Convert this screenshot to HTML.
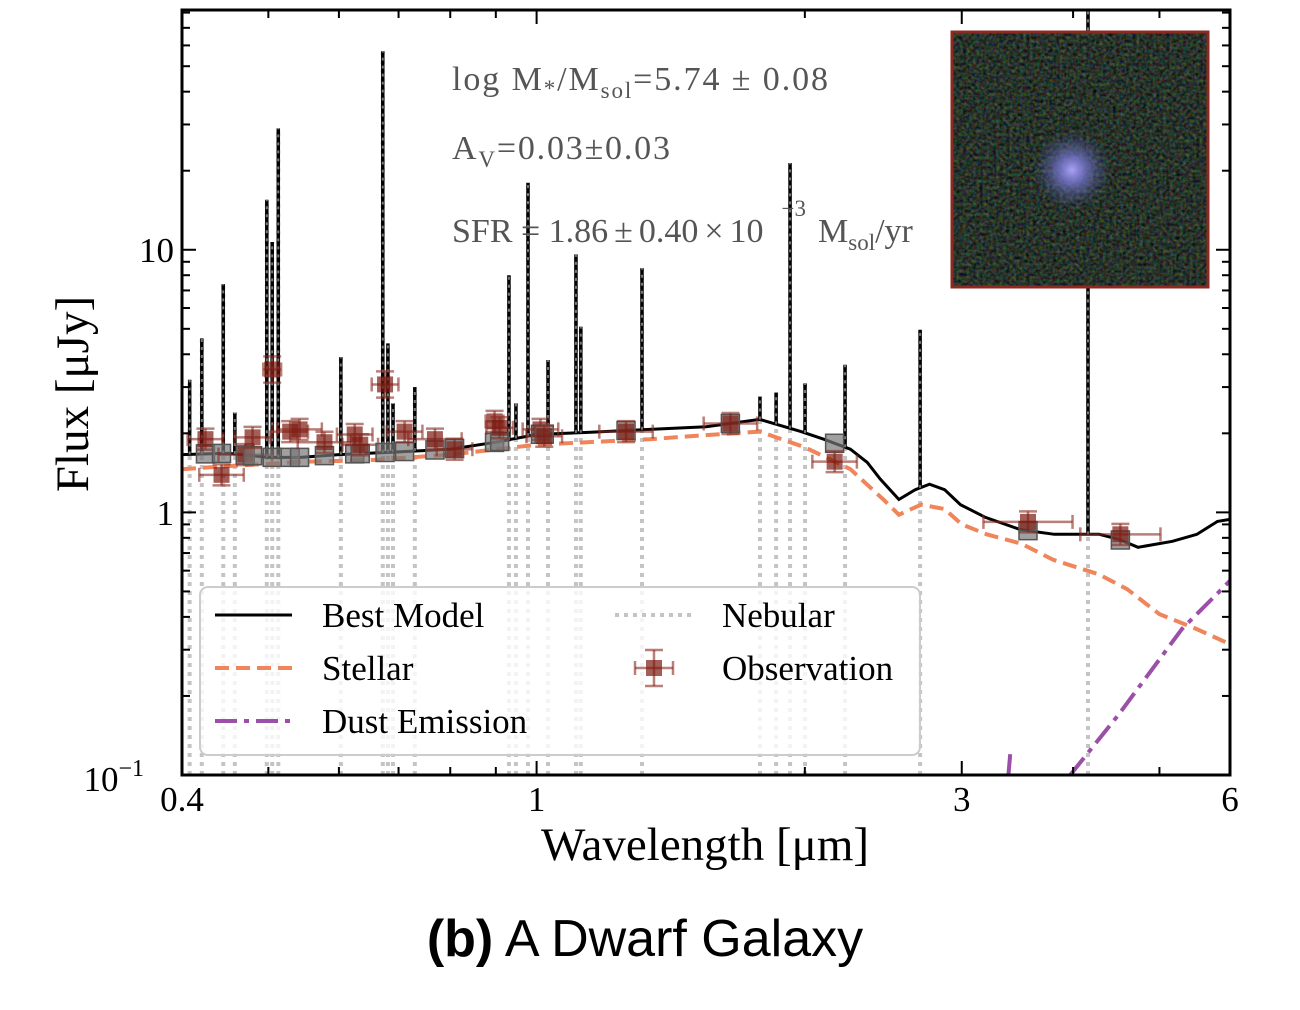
<!DOCTYPE html>
<html><head><meta charset="utf-8"><style>
body{margin:0;background:#fff;width:1300px;height:1010px;overflow:hidden}
</style></head><body>
<svg id="c" width="1300" height="1010" style="position:absolute;left:0;top:0">
<defs>
<clipPath id="pc"><rect x="182" y="10" width="1048" height="765"/></clipPath>
<filter id="noise" x="0" y="0" width="100%" height="100%" color-interpolation-filters="sRGB">
<feTurbulence type="fractalNoise" baseFrequency="0.3" numOctaves="2" seed="3"/>
<feColorMatrix type="matrix" values="0.45 0.1 0 0 -0.12  0.05 0.5 0.05 0 -0.1  0 0.1 0.45 0 -0.11  0 0 0 0 1"/>
</filter>
<radialGradient id="blob"><stop offset="0" stop-color="#a9a2f5"/><stop offset="0.3" stop-color="#7a78d0" stop-opacity="0.85"/><stop offset="1" stop-color="#3a4a80" stop-opacity="0"/></radialGradient>
</defs>
<g id="plot" clip-path="url(#pc)"></g>
<g id="axes" style="font-family:'Liberation Serif',serif"></g>
</svg>
<script>
const lineW=[0.408,0.421,0.445,0.4585,0.498,0.505,0.513,0.603,0.672,0.681,0.69,0.73,0.931,0.948,0.978,1.03,1.107,1.121,1.313,1.781,1.857,1.925,2.001,2.219,2.694,4.157];
const lineF=[3.2,4.6,7.4,2.4,15.5,10.7,29,3.9,57,4.4,2.6,3.0,8.0,2.6,18,3.8,9.6,5.1,8.5,2.76,2.86,21.4,3.1,3.65,4.96,100];
const bestW=[0.4,0.45,0.5,0.543,0.6,0.7,0.8,0.9,1.0,1.15,1.34,1.55,1.78,1.98,2.1,2.25,2.35,2.43,2.55,2.66,2.76,2.87,2.99,3.19,3.49,3.81,4.28,4.5,4.73,5.17,5.51,5.81,6.0];
const bestF=[1.66,1.68,1.62,1.62,1.66,1.70,1.74,1.85,1.98,2.02,2.07,2.12,2.26,2.03,1.9,1.74,1.55,1.34,1.12,1.22,1.28,1.22,1.07,0.957,0.86,0.825,0.825,0.79,0.736,0.776,0.825,0.924,0.94];
const stelW=[0.4,0.45,0.55,0.65,0.8,1.0,1.34,1.55,1.78,2.0,2.25,2.45,2.55,2.7,2.87,3.0,3.2,3.5,3.8,4.28,4.6,5.0,5.5,6.0];
const stelF=[1.46,1.50,1.56,1.58,1.66,1.81,1.9,1.97,2.03,1.77,1.46,1.12,0.98,1.07,1.03,0.9,0.825,0.76,0.66,0.58,0.51,0.41,0.36,0.315];
const dustW=[3.97,4.5,5.3,5.84,6.0];
const dustF=[0.1,0.17,0.36,0.5,0.55];
const dust2W=[3.38,3.40];
const dust2F=[0.095,0.12];
const obsW=[0.425,0.443,0.471,0.48,0.505,0.529,0.542,0.578,0.625,0.634,0.676,0.711,0.769,0.809,0.897,0.909,1.01,1.02,1.26,1.65,2.16,3.56,4.52];
const obsF=[1.90,1.39,1.66,1.93,3.50,2.03,2.07,1.85,1.98,1.81,3.07,2.03,1.90,1.74,2.22,2.10,2.07,1.95,2.03,2.18,1.56,0.92,0.825];
const obsXerr=[0.02,0.025,0.03,0.02,0.01,0.02,0.025,0.03,0.02,0.02,0.015,0.02,0.03,0.02,0.01,0.015,0.02,0.02,0.03,0.03,0.025,0.05,0.045];
const obsYerr=[0.04,0.04,0.04,0.04,0.05,0.04,0.04,0.04,0.04,0.04,0.05,0.04,0.04,0.04,0.04,0.04,0.04,0.04,0.04,0.04,0.04,0.04,0.04];
const xTicks=[0.4,1,3,6];
const xTickLabels=["0.4","1","3","6"];

const NS="http://www.w3.org/2000/svg";
const X0=182,X1=1230,Y0=10,Y1=775,LW0=Math.log10(0.4),LW1=Math.log10(6),LF0=-1,LF1=1.913;
const xs=w=>X0+(Math.log10(w)-LW0)/(LW1-LW0)*(X1-X0);
const ys=f=>Y1-(Math.log10(f)-LF0)/(LF1-LF0)*(Y1-Y0);
const plot=document.getElementById('plot'),axes=document.getElementById('axes');
function el(tag,at,par){const e=document.createElementNS(NS,tag);for(const k in at)e.setAttribute(k,at[k]);(par||plot).appendChild(e);return e;}
function interp(W,F,w){for(let i=0;i<W.length-1;i++){if(w>=W[i]&&w<=W[i+1]){const t=(Math.log10(w)-Math.log10(W[i]))/(Math.log10(W[i+1])-Math.log10(W[i]));return Math.pow(10,Math.log10(F[i])+t*(Math.log10(F[i+1])-Math.log10(F[i])));}}return F[F.length-1];}
function pathOf(W,F){return W.map((w,i)=>(i?'L':'M')+xs(w).toFixed(1)+','+ys(F[i]).toFixed(1)).join('');}

lineW.forEach((w,i)=>{const e=el('line',{x1:xs(w),x2:xs(w),y1:Y1,y2:ys(lineF[i]),stroke:'#c4c4c4','stroke-width':4,'stroke-dasharray':'4 5'});

});
let s=el('path',{d:pathOf(stelW,stelF),fill:'none',stroke:'#f0845a','stroke-width':4,'stroke-dasharray':'14 7'});


let d=el('path',{d:pathOf(dustW,dustF),fill:'none',stroke:'#9b4fa8','stroke-width':4,'stroke-dasharray':'22 7 5 7'});


let d2=el('path',{d:pathOf(dust2W,dust2F),fill:'none',stroke:'#9b4fa8','stroke-width':4});


let b=el('path',{d:pathOf(bestW,bestF),fill:'none',stroke:'#000','stroke-width':3});


lineW.forEach((w,i)=>{const e=el('line',{x1:xs(w),x2:xs(w),y1:ys(interp(bestW,bestF,w)),y2:ys(lineF[i]),stroke:'#000','stroke-width':3.5});


const g=el('line',{x1:xs(w),x2:xs(w),y1:ys(interp(bestW,bestF,w)),y2:ys(lineF[i]),stroke:'#777','stroke-width':2,'stroke-dasharray':'3 5'});

});
obsW.forEach((w,i)=>{
 const mf=interp(bestW,bestF,w);const mx=xs(w),my=ys(mf);
 const gq=el('rect',{x:mx-9,y:my-9,width:18,height:18,fill:'#777','fill-opacity':0.7,stroke:'#555','stroke-width':1.5});
 
 
 const x=xs(w),y=ys(obsF[i]);
 const xl=xs(w/Math.pow(10,obsXerr[i])),xr=xs(w*Math.pow(10,obsXerr[i]));
 const yt=ys(obsF[i]*Math.pow(10,obsYerr[i])),yb=ys(obsF[i]/Math.pow(10,obsYerr[i]));
 const g=el('g',{stroke:'#8b2a20','stroke-opacity':0.6,'stroke-width':2.5,fill:'none'});
 
 
 el('line',{x1:xl,x2:xr,y1:y,y2:y},g);el('line',{x1:x,x2:x,y1:yt,y2:yb},g);
 el('line',{x1:xl,x2:xl,y1:y-7,y2:y+7},g);el('line',{x1:xr,x2:xr,y1:y-7,y2:y+7},g);
 el('line',{x1:x-9,x2:x+9,y1:yt,y2:yt},g);el('line',{x1:x-9,x2:x+9,y1:yb,y2:yb},g);
 el('rect',{x:x-8,y:y-8,width:16,height:16,fill:'#7a1a10','fill-opacity':0.7,stroke:'none'},g);
});
const fr=el('rect',{x:X0,y:Y0,width:X1-X0,height:Y1-Y0,fill:'none',stroke:'#000','stroke-width':3},axes);


for(let dec=-1;dec<=1;dec++)for(let m=1;m<10;m++){const f=m*Math.pow(10,dec);if(f<0.1||f>81)continue;const y=ys(f);const L=m==1?14:8;
 el('line',{x1:X0,x2:X0+L,y1:y,y2:y,stroke:'#000','stroke-width':2},axes);el('line',{x1:X1,x2:X1-L,y1:y,y2:y,stroke:'#000','stroke-width':2},axes);}
[0.4,0.5,0.6,0.7,0.8,0.9,1,2,3,4,5,6].forEach(w=>{const x=xs(w);const L=[0.4,1,3,6].includes(w)?14:8;
 el('line',{x1:x,x2:x,y1:Y1,y2:Y1-L,stroke:'#000','stroke-width':2},axes);el('line',{x1:x,x2:x,y1:Y0,y2:Y0+L,stroke:'#000','stroke-width':2},axes);});
xTicks.forEach((w,i)=>{const t=el('text',{x:xs(w),y:811,'font-size':35,'text-anchor':'middle'},axes);t.textContent=xTickLabels[i];

});
</script>
<svg width="1300" height="1010" style="position:absolute;left:0;top:0">
<g style="font-family:'Liberation Serif',serif">
<text x="174" y="262" font-size="35" text-anchor="end">10</text>
<text x="174" y="525" font-size="35" text-anchor="end">1</text>
<text x="144" y="791" font-size="35" text-anchor="end">10<tspan dy="-15" font-size="24">−1</tspan></text>
<text transform="translate(88,394) rotate(-90)" font-size="47" text-anchor="middle">Flux [μJy]</text>
<text x="705" y="860" font-size="47" text-anchor="middle">Wavelength [μm]</text>
<g fill="#555" font-size="34">
<text x="452" y="90" textLength="376" lengthAdjust="spacing">log M<tspan font-size="23" dy="6">*</tspan><tspan dy="-6">/M</tspan><tspan font-size="23" dy="8">sol</tspan><tspan dy="-8">=5.74 ± 0.08</tspan></text>
<text x="452" y="159" textLength="218" lengthAdjust="spacing">A<tspan font-size="23" dy="8">V</tspan><tspan dy="-8">=0.03±0.03</tspan></text>
<text x="452" y="242">SFR = 1.86<tspan dx="6">±</tspan><tspan dx="6">0.40</tspan><tspan dx="6">×</tspan><tspan dx="6">10</tspan><tspan font-size="23" dy="-26" dx="18">−3</tspan><tspan dy="26" dx="12">M</tspan><tspan font-size="23" dy="8">sol</tspan><tspan dy="-8">/yr</tspan></text>
</g>
</g>
<g>
<rect x="952" y="32" width="256" height="255" fill="#1a2520"/>
<rect x="952" y="32" width="256" height="255" filter="url(#noise)"/>
<circle cx="1072" cy="170" r="40" fill="url(#blob)"/>
<rect x="952" y="32" width="256" height="255" fill="none" stroke="#8b2a20" stroke-width="3"/>
</g>
<g>
<rect x="200" y="587" width="720" height="168" rx="8" fill="#fff" fill-opacity="0.8" stroke="#ccc" stroke-width="2"/>
<line x1="215" x2="292" y1="615" y2="615" stroke="#000" stroke-width="3"/>
<line x1="215" x2="292" y1="668" y2="668" stroke="#f0845a" stroke-width="4" stroke-dasharray="14 7"/>
<line x1="215" x2="292" y1="721" y2="721" stroke="#9b4fa8" stroke-width="4" stroke-dasharray="22 7 5 7"/>
<line x1="615" x2="692" y1="615" y2="615" stroke="#c4c4c4" stroke-width="4" stroke-dasharray="4 5"/>
<g stroke="#8b2a20" stroke-opacity="0.6" stroke-width="2.5">
<line x1="635" x2="673" y1="668" y2="668"/><line x1="654" x2="654" y1="650" y2="686"/>
<line x1="635" x2="635" y1="661" y2="675"/><line x1="673" x2="673" y1="661" y2="675"/>
<line x1="645" x2="663" y1="650" y2="650"/><line x1="645" x2="663" y1="686" y2="686"/>
<rect x="646" y="660" width="16" height="16" fill="#7a1a10" fill-opacity="0.7" stroke="none"/></g>
<g style="font-family:'Liberation Serif',serif" font-size="35">
<text x="322" y="627">Best Model</text>
<text x="322" y="680">Stellar</text>
<text x="322" y="733">Dust Emission</text>
<text x="722" y="627">Nebular</text>
<text x="722" y="680">Observation</text>
</g></g>
<text x="645" y="956" style="font-family:'Liberation Sans',sans-serif" font-size="52" text-anchor="middle"><tspan font-weight="bold">(b)</tspan> A Dwarf Galaxy</text>
</svg>
</body></html>
